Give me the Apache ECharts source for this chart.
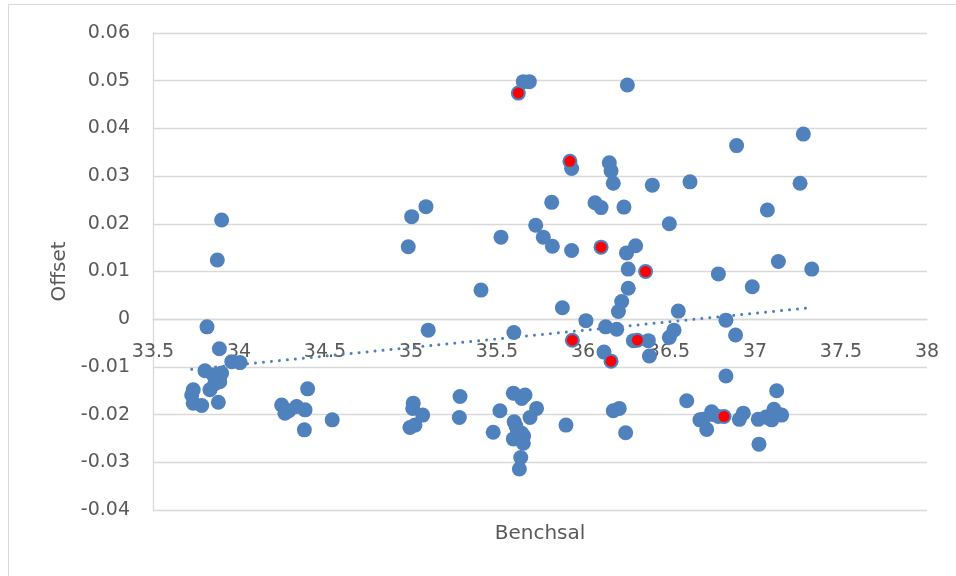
<!DOCTYPE html>
<html>
<head>
<meta charset="utf-8">
<script src="https://cdn.jsdelivr.net/npm/echarts@6/dist/echarts.min.js"></script>
<style>html,body{margin:0;padding:0;background:#fff}#c{width:956px;height:576px}</style>
</head>
<body>
<div id="c"></div>
<script>
// Benchsal (x) values of all points
const blueX = [
 33.899,33.874,33.814,33.886,33.958,34.006,33.802,33.851,33.899,33.888,33.865,33.831,33.734,33.725,33.734,33.783,33.880,33.860,
 34.248,34.267,34.290,34.335,34.384,34.399,34.380,34.542,
 35.004,35.087,34.984,35.100,35.013,35.010,35.068,34.994,35.023,
 35.285,35.281,35.517,35.478,35.523,35.407,35.598,
 35.595,35.663,35.644,35.730,35.692,35.610,35.644,35.595,35.653,35.638,35.630,35.901,35.620,35.655,35.600,
 35.624,35.653,35.688,36.258,35.924,35.934,36.153,36.163,36.176,36.403,36.622,
 35.818,35.725,35.769,35.822,35.934,35.880,36.017,35.938,36.070,36.105,36.105,36.238,
 36.502,36.306,36.253,36.364,36.263,36.263,36.225,36.206,36.132,36.196,36.554,36.529,36.502,
 36.293,36.316,36.380,36.386,36.122,36.163,
 36.176,36.211,36.248,36.603,36.680,
 36.831,36.699,36.748,36.719,36.787,36.820,36.932,36.909,37.019,37.023,37.097,37.110,37.155,37.126,37.064,37.130,36.760,37.080,
 37.281,36.893,37.262,37.072,37.136,37.330,36.787,36.984,36.831,36.887
];
// Offset (y) values of all points
const blueY = [
 0.0208,0.0124,-0.0016,-0.0062,-0.0089,-0.0091,-0.0108,-0.0117,-0.0113,-0.0131,-0.0125,-0.0148,-0.0148,-0.0159,-0.0176,-0.0181,-0.0174,-0.0135,
 -0.0180,-0.0197,-0.0192,-0.0183,-0.0190,-0.0146,-0.0232,-0.0211,
 0.0215,0.0236,0.0152,-0.0023,-0.0176,-0.0187,-0.0201,-0.0227,-0.0222,
 -0.0162,-0.0206,-0.0192,-0.0237,0.0172,0.0061,-0.0028,
 -0.0155,-0.0159,-0.0166,-0.0187,-0.0206,-0.0224,-0.0239,-0.0251,-0.0260,-0.0290,-0.0314,-0.0222,-0.0235,-0.0245,-0.0215,
 0.0474,0.0498,0.0498,0.0491,0.0331,0.0316,0.0328,0.0311,0.0285,0.0281,0.0288,
 0.0245,0.0197,0.0172,0.0153,0.0144,0.0024,-0.0003,-0.0044,0.0244,0.0234,0.0151,0.0235,
 0.0200,0.0154,0.0139,0.0100,0.0105,0.0065,0.0037,0.0016,-0.0016,-0.0021,0.0017,-0.0023,-0.0038,
 -0.0045,-0.0044,-0.0045,-0.0077,-0.0069,-0.0088,
 -0.0192,-0.0187,-0.0238,-0.0171,-0.0211,
 -0.0119,-0.0210,-0.0194,-0.0231,-0.0204,-0.0204,-0.0197,-0.0210,-0.0210,-0.0262,-0.0211,-0.0189,-0.0201,-0.0150,-0.0205,-0.0198,-0.0200,-0.0207,
 0.0388,0.0364,0.0285,0.0229,0.0121,0.0105,0.0095,0.0068,-0.0002,-0.0033
];
// highlighted points
const redX = [35.624,35.924,35.938,36.105,36.364,36.316,36.163,36.820];
const redY = [0.0474,0.0331,-0.0044,0.0151,0.0100,-0.0044,-0.0088,-0.0204];

const xTicks = {min:33.5, max:38, step:0.5};
const yTicks = {min:-0.04, max:0.06, step:0.01};

// linear least-squares trendline over the blue series
function linreg(xs, ys){
  const n = xs.length;
  let sx=0, sy=0, sxx=0, sxy=0;
  for(let i=0;i<n;i++){sx+=xs[i];sy+=ys[i];sxx+=xs[i]*xs[i];sxy+=xs[i]*ys[i];}
  const b = (n*sxy - sx*sy)/(n*sxx - sx*sx);
  const a = (sy - b*sx)/n;
  return {a,b};
}
const fit = linreg(blueX, blueY);
const xmin = Math.min(...blueX), xmax = Math.max(...blueX);
const trend = [[xmin, fit.a + fit.b*xmin],[xmax, fit.a + fit.b*xmax]];

const W = 956, H = 576;
const G = {left:153, right:29, top:33, bottom:66};
const plotH = H - G.top - G.bottom;
// move the x axis up so it crosses the y axis at zero
const zeroOffset = -plotH * (0 - yTicks.min) / (yTicks.max - yTicks.min);

const FONT = 'DejaVu Sans';
const chart = echarts.init(document.getElementById('c'), null, {renderer:'canvas'});
chart.setOption({
  animation:false,
  backgroundColor:'#ffffff',
  graphic:[{type:'rect', shape:{x:8.5,y:4.5,width:1000,height:1000}, style:{fill:'none', stroke:'#d9d9d9', lineWidth:1}, silent:true}],
  grid:{left:G.left, right:G.right, top:G.top, bottom:G.bottom, containLabel:false, outerBoundsMode:'none'},
  xAxis:{
    type:'value', min:xTicks.min, max:xTicks.max, interval:xTicks.step,
    offset:zeroOffset,
    axisLine:{show:true, onZero:false, lineStyle:{color:'#d9d9d9', width:1.3}},
    axisTick:{show:false},
    splitLine:{show:false},
    axisLabel:{fontSize:19, color:'#595959', fontFamily:FONT, margin:23, showMinLabel:true, showMaxLabel:true},
    name:'Benchsal', nameLocation:'middle', nameGap:205,
    nameTextStyle:{fontSize:20, color:'#595959', fontFamily:FONT}
  },
  yAxis:{
    type:'value', min:yTicks.min, max:yTicks.max, interval:yTicks.step,
    axisLine:{show:true, onZero:false, lineStyle:{color:'#d9d9d9', width:1.3}},
    axisTick:{show:false},
    splitLine:{show:true, lineStyle:{color:'#d9d9d9', width:1.3}},
    axisLabel:{fontSize:19, color:'#595959', fontFamily:FONT, margin:23,
      formatter:v=>String(+(+v).toFixed(2))},
    name:'Offset', nameLocation:'middle', nameGap:82, nameRotate:90,
    nameTextStyle:{fontSize:20, color:'#595959', fontFamily:FONT}
  },
  series:[
    {type:'line', data:trend, symbol:'none', z:1, silent:true,
     lineStyle:{color:'#4f81bd', width:3, type:[0.01,8], cap:'round'}},
    {type:'scatter', data:blueX.map((x,i)=>[x,blueY[i]]), symbolSize:15, z:2,
     itemStyle:{color:'#4f81bd', opacity:1}},
    {type:'scatter', data:redX.map((x,i)=>[x,redY[i]]), symbolSize:11, z:3,
     itemStyle:{color:'#ff0000', opacity:1}}
  ]
});
</script>
</body>
</html>
